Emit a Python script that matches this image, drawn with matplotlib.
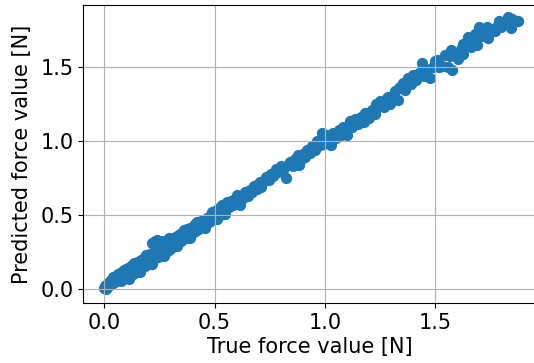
import matplotlib
matplotlib.use("Agg")
import matplotlib.pyplot as plt

# True vs. predicted force, one point per sample
true_force = [
    0.000, 0.003, 0.006, 0.009, 0.012, 0.015, 0.018, 0.021, 0.025, 0.028, 0.031, 0.035, 0.038, 0.042, 0.045, 0.049, 0.052, 0.056, 0.060, 0.064, 0.068, 0.072, 0.077, 0.082, 0.088,
    0.091, 0.095, 0.099, 0.103, 0.107, 0.111, 0.115, 0.119, 0.123, 0.127, 0.131, 0.135, 0.139, 0.143, 0.147, 0.151, 0.155, 0.160, 0.164, 0.168, 0.173, 0.178, 0.183, 0.189, 0.195,
    0.200, 0.204, 0.208, 0.212, 0.216, 0.220, 0.224, 0.228, 0.232, 0.236, 0.240, 0.244, 0.248, 0.252, 0.257, 0.262, 0.267, 0.272, 0.277, 0.282, 0.287, 0.292, 0.298, 0.304, 0.310,
    0.315, 0.320, 0.326, 0.331, 0.337, 0.342, 0.348, 0.353, 0.359, 0.365, 0.371, 0.377, 0.383, 0.389, 0.395, 0.401, 0.407, 0.413, 0.420, 0.426, 0.432, 0.439, 0.446, 0.452, 0.459, 0.466, 0.473, 0.480, 0.487, 0.495,
    0.502, 0.510, 0.518, 0.526, 0.534, 0.542, 0.550, 0.558, 0.566, 0.575, 0.584, 0.593, 0.602, 0.611, 0.620, 0.630, 0.640, 0.650, 0.660, 0.670, 0.680, 0.690, 0.700, 0.712, 0.724,
    0.735, 0.745, 0.756, 0.767, 0.778, 0.789, 0.800, 0.811, 0.822, 0.833, 0.844, 0.855, 0.866, 0.877, 0.888, 0.899, 0.910, 0.921, 0.932, 0.943, 0.954, 0.965, 0.976, 0.987, 0.998,
    1.005, 1.015, 1.026, 1.038, 1.050, 1.062, 1.075, 1.088, 1.100, 1.112, 1.125, 1.138, 1.150, 1.162, 1.175, 1.188, 1.200, 1.213, 1.226, 1.239, 1.252, 1.266, 1.280, 1.294, 1.308,
    1.320, 1.330, 1.340, 1.352, 1.362, 1.375, 1.388, 1.400, 1.412, 1.425, 1.438, 1.450, 1.462, 1.475, 1.488, 1.500, 1.515, 1.530, 1.545, 1.560,
    1.565, 1.578, 1.590, 1.602, 1.615, 1.628, 1.640, 1.650, 1.662, 1.675, 1.690, 1.700, 1.712, 1.725, 1.740, 1.755, 1.770, 1.785, 1.800, 1.815, 1.828, 1.842, 1.858, 1.875,
    0.010, 0.030, 0.050, 0.070, 0.085, 0.105, 0.125, 0.145, 0.165, 0.185, 0.205, 0.225, 0.245, 0.265, 0.285, 0.305, 0.325, 0.345, 0.365, 0.385, 0.405, 0.425, 0.445, 0.465, 0.485,
    0.040, 0.075, 0.110, 0.135, 0.160, 0.190, 0.215, 0.240, 0.270, 0.295, 0.330, 0.360, 0.390, 0.420, 0.455, 0.490,
    0.560, 0.605, 0.655, 0.705, 0.750, 0.795, 0.840, 0.890, 0.935, 0.985, 1.030, 1.080, 1.130, 1.180, 1.230, 1.285, 1.335, 1.395, 1.455, 1.510, 1.570, 1.625, 1.680, 1.735, 1.790, 1.850,
    0.548, 0.617, 0.882,
]
predicted_force = [
    0.008, 0.022, 0.000, 0.030, 0.014, 0.038, 0.020, 0.046, 0.028, 0.055, 0.036, 0.062, 0.044, 0.075, 0.050, 0.085, 0.058, 0.092, 0.066, 0.101, 0.074, 0.110, 0.083, 0.118, 0.095,
    0.128, 0.083, 0.140, 0.096, 0.148, 0.108, 0.092, 0.155, 0.118, 0.160, 0.105, 0.172, 0.130, 0.178, 0.120, 0.186, 0.142, 0.190, 0.135, 0.200, 0.152, 0.210, 0.160, 0.222, 0.172,
    0.232, 0.180, 0.240, 0.192, 0.315, 0.205, 0.250, 0.330, 0.212, 0.262, 0.335, 0.220, 0.330, 0.272, 0.232, 0.325, 0.285, 0.245, 0.300, 0.255, 0.320, 0.268, 0.332, 0.278, 0.345,
    0.295, 0.350, 0.305, 0.362, 0.318, 0.375, 0.330, 0.382, 0.342, 0.395, 0.350, 0.405, 0.362, 0.415, 0.378, 0.425, 0.390, 0.440, 0.400, 0.448, 0.415, 0.462, 0.428, 0.470, 0.442, 0.482, 0.455, 0.498, 0.468, 0.508,
    0.532, 0.475, 0.550, 0.500, 0.570, 0.512, 0.548, 0.590, 0.558, 0.598, 0.568, 0.612, 0.640, 0.600, 0.632, 0.615, 0.660, 0.628, 0.675, 0.660, 0.700, 0.678, 0.718, 0.690, 0.735,
    0.762, 0.742, 0.780, 0.765, 0.815, 0.790, 0.832, 0.805, 0.750, 0.838, 0.862, 0.835, 0.880, 0.905, 0.870, 0.918, 0.895, 0.945, 0.925, 0.970, 0.945, 1.005, 0.975, 1.030, 0.982,
    1.045, 0.990, 0.975, 1.060, 1.020, 1.075, 1.040, 1.088, 1.045, 1.140, 1.095, 1.150, 1.120, 1.165, 1.130, 1.180, 1.160, 1.210, 1.185, 1.235, 1.275, 1.230, 1.290, 1.255, 1.310,
    1.340, 1.280, 1.365, 1.395, 1.350, 1.425, 1.390, 1.448, 1.415, 1.460, 1.530, 1.440, 1.480, 1.428, 1.500, 1.545, 1.505, 1.512, 1.585, 1.500,
    1.580, 1.485, 1.600, 1.560, 1.625, 1.590, 1.665, 1.705, 1.640, 1.690, 1.648, 1.775, 1.710, 1.735, 1.700, 1.760, 1.745, 1.785, 1.770, 1.800, 1.842, 1.765, 1.805, 1.812,
    0.018, 0.045, 0.072, 0.088, 0.108, 0.125, 0.140, 0.158, 0.175, 0.195, 0.215, 0.232, 0.258, 0.275, 0.290, 0.318, 0.335, 0.352, 0.372, 0.390, 0.410, 0.430, 0.448, 0.470, 0.488,
    0.085, 0.055, 0.070, 0.180, 0.118, 0.235, 0.170, 0.285, 0.228, 0.345, 0.290, 0.400, 0.350, 0.455, 0.415, 0.525,
    0.575, 0.625, 0.665, 0.728, 0.770, 0.805, 0.855, 0.905, 0.950, 1.060, 1.050, 1.095, 1.145, 1.195, 1.255, 1.300, 1.358, 1.420, 1.490, 1.550, 1.615, 1.660, 1.725, 1.770, 1.812, 1.830,
    0.510, 0.572, 0.842,
]

tick_values = [0.0, 0.5, 1.0, 1.5]
tick_labels = ["0.0", "0.5", "1.0", "1.5"]

fig = plt.figure(figsize=(5.34, 3.63), dpi=100)
ax = fig.add_axes([0.156, 0.165, 0.847, 0.821])

ax.scatter(true_force, predicted_force, s=50, color="#1f77b4")

ax.set_xlim(-0.095, 1.955)
ax.set_ylim(-0.0925, 1.921)
ax.set_xticks(tick_values)
ax.set_xticklabels(tick_labels)
ax.set_yticks(tick_values)
ax.set_yticklabels(tick_labels)
ax.tick_params(labelsize=15)
ax.grid(True)

ax.set_xlabel("True force value [N]", fontsize=15, labelpad=3)
ax.set_ylabel("Predicted force value [N]", fontsize=15, labelpad=6)

fig.savefig("out.png", dpi=100)
